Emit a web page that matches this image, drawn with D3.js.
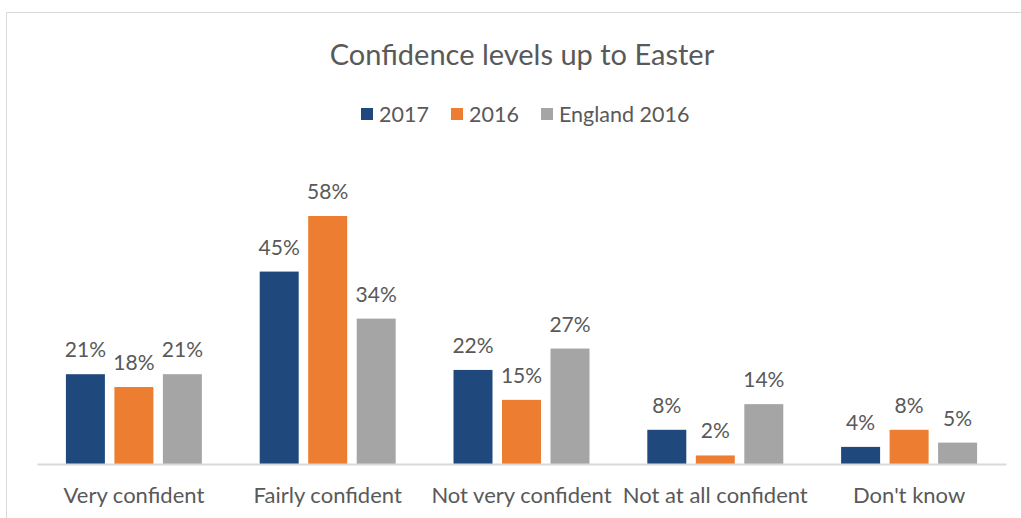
<!DOCTYPE html>
<html>
<head>
<meta charset="utf-8">
<script src="https://cdn.jsdelivr.net/npm/d3@7"></script>
<style>
  html, body { margin: 0; padding: 0; background: #fff; }
  svg { display: block; font-family: Lato, "Open Sans", sans-serif; }
</style>
</head>
<body>
<svg id="chart" width="1021" height="518"></svg>
<script>
const categories = ["Very confident", "Fairly confident", "Not very confident", "Not at all confident", "Don't know"];
const seriesNames = ["2017", "2016", "England 2016"];
const seriesColors = ["#1f497d", "#ed7d31", "#a5a5a5"];
const values2017 = [21, 45, 22, 8, 4];
const values2016 = [18, 58, 15, 2, 8];
const valuesEngland2016 = [21, 34, 27, 14, 5];

const seriesValues = [values2017, values2016, valuesEngland2016];
const data = categories.map((c, i) => ({
  category: c,
  values: seriesValues.map((vals, s) => ({ series: seriesNames[s], value: vals[i], color: seriesColors[s] }))
}));

const svg = d3.select("#chart");
const textColor = "#595959";

// chart frame
svg.append("path")
  .attr("d", "M6.5,518 V12.5 H1021")
  .attr("fill", "none")
  .attr("stroke", "#d9d9d9")
  .attr("stroke-width", 1);

const plot = { left: 37, right: 1006, top: 150, bottom: 464 };

const x0 = d3.scaleBand().domain(categories).range([plot.left, plot.right]).paddingInner(0).paddingOuter(0);
const x1 = d3.scaleBand().domain(seriesNames).range([0, x0.bandwidth()]).paddingInner(0.196).paddingOuter(0.596);
const y = d3.scaleLinear().domain([0, 60]).range([plot.bottom, plot.bottom - 60 * 4.276]);

// title
svg.append("text")
  .attr("x", 522).attr("y", 65)
  .attr("text-anchor", "middle")
  .attr("font-size", 29)
  .attr("fill", textColor)
  .text("Confidence levels up to Easter");

// legend
const legendItems = [
  { name: "2017", x: 361 },
  { name: "2016", x: 451 },
  { name: "England 2016", x: 541 }
];
const legend = svg.append("g");
legendItems.forEach((item, i) => {
  legend.append("rect")
    .attr("x", item.x).attr("y", 108).attr("width", 12).attr("height", 12)
    .attr("fill", seriesColors[i]);
  legend.append("text")
    .attr("x", item.x + 18).attr("y", 122)
    .attr("font-size", 21.5)
    .attr("fill", textColor)
    .text(item.name);
});

// bars
const groups = svg.append("g").selectAll("g")
  .data(data).join("g")
  .attr("transform", d => `translate(${x0(d.category)},0)`);

groups.selectAll("rect")
  .data(d => d.values).join("rect")
  .attr("x", d => x1(d.series))
  .attr("width", x1.bandwidth())
  .attr("y", d => y(d.value))
  .attr("height", d => y(0) - y(d.value))
  .attr("fill", d => d.color);

groups.selectAll("text.value")
  .data(d => d.values).join("text")
  .attr("class", "value")
  .attr("x", d => x1(d.series) + x1.bandwidth() / 2)
  .attr("y", d => y(d.value) - 17)
  .attr("text-anchor", "middle")
  .attr("font-size", 21)
  .attr("fill", textColor)
  .text(d => d.value + "%");

// category axis
const xAxis = svg.append("g")
  .attr("transform", `translate(0,${plot.bottom})`)
  .call(d3.axisBottom(x0).tickSize(0));
xAxis.select(".domain").attr("stroke", "#d9d9d9").attr("stroke-width", 2);
xAxis.selectAll("text")
  .attr("y", 39)
  .attr("dy", 0)
  .attr("font-size", 22)
  .attr("font-family", "Lato, 'Open Sans', sans-serif")
  .attr("fill", textColor);
</script>
</body>
</html>
